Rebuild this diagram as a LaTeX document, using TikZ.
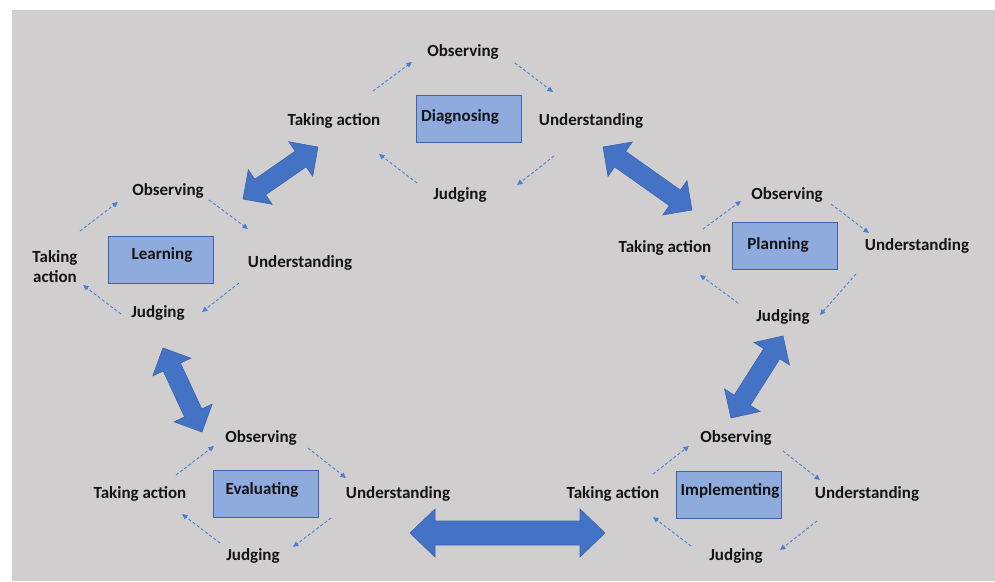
\documentclass[tikz,border=0pt]{standalone}
\usepackage{fontspec}
\setmainfont{Carlito}
\usetikzlibrary{arrows.meta}
\definecolor{bg}{HTML}{D0CECE}
\definecolor{boxfill}{HTML}{8FAADC}
\definecolor{boxedge}{HTML}{3F63A8}
\definecolor{bigblue}{HTML}{4472C4}
\definecolor{bigedge}{HTML}{3A64B0}
\definecolor{dashblue}{HTML}{4A7DD6}
\tikzset{
  lbl/.style={font=\bfseries\fontsize{17}{20}\selectfont, text=black!92, inner sep=0pt, align=center},
  stagebox/.style={draw=boxedge, fill=boxfill, line width=1pt, inner sep=0pt, minimum width=105pt, minimum height=47pt},
  cyc/.style={dashblue, line width=0.9pt, dash pattern=on 3pt off 2.2pt, -{Triangle[length=5.5pt,width=5pt]}},
  bigarrow/.style={fill=bigblue, draw=bigedge, line width=0.6pt, line join=miter}
}
\newcommand\bigdbl[7]{%
  \pgfmathsetmacro\bdx{#3-(#1)}%
  \pgfmathsetmacro\bdy{#4-(#2)}%
  \pgfmathsetmacro\bL{veclen(\bdx,\bdy)}%
  \pgfmathsetmacro\bA{atan2(\bdy,\bdx)}%
  \pgfmathsetmacro\bM{\bL-#7}%
  \begin{scope}[shift={(#1,#2)},rotate=\bA]
    \draw[bigarrow] (0,0) -- (#7,#6) -- (#7,#5) -- (\bM,#5) -- (\bM,#6) -- (\bL,0)
      -- (\bM,-#6) -- (\bM,-#5) -- (#7,-#5) -- (#7,-#6) -- cycle;
  \end{scope}}
\begin{document}
\begin{tikzpicture}[x=1pt,y=1pt]
\useasboundingbox (0,0) rectangle (995,-581);
\fill[white] (0,0) rectangle (995,-581);
\fill[bg] (12,-10) rectangle (995,-581);

% ---------- Diagnosing ----------
\node[stagebox] (dbox) at (469,-118.5) {};
\node[lbl] (dlab) at (460,-117) {Diagnosing};
\node[lbl] (dobs) at (463,-52) {Observing};
\node[lbl] (dta) at (334,-121) {Taking action};
\node[lbl] (dund) at (591,-121) {Understanding};
\node[lbl] (djud) at (460,-195) {Judging};
\coordinate (d1a) at (373,-91);  \coordinate (d1b) at (412,-62);
\coordinate (d2a) at (515,-63);  \coordinate (d2b) at (553,-92);
\coordinate (d3a) at (554,-156); \coordinate (d3b) at (517,-185);
\coordinate (d4a) at (417,-183); \coordinate (d4b) at (379,-154);
\draw[cyc] (d1a) -- (d1b);
\draw[cyc] (d2a) -- (d2b);
\draw[cyc] (d3a) -- (d3b);
\draw[cyc] (d4a) -- (d4b);

% ---------- Learning ----------
\node[stagebox] (lbox) at (160.5,-259.5) {};
\node[lbl] (llab) at (162,-255) {Learning};
\node[lbl] (lobs) at (168,-191) {Observing};
\node[lbl] (lta) at (55,-267) {Taking\\action};
\node[lbl] (lund) at (300,-263) {Understanding};
\node[lbl] (ljud) at (158,-313) {Judging};
\coordinate (l1a) at (80,-231);  \coordinate (l1b) at (118,-202);
\coordinate (l2a) at (209,-200); \coordinate (l2b) at (248,-229);
\coordinate (l3a) at (239,-283); \coordinate (l3b) at (202,-312);
\coordinate (l4a) at (121,-314); \coordinate (l4b) at (83,-285);
\draw[cyc] (l1a) -- (l1b);
\draw[cyc] (l2a) -- (l2b);
\draw[cyc] (l3a) -- (l3b);
\draw[cyc] (l4a) -- (l4b);

% ---------- Planning ----------
\node[stagebox] (pbox) at (785,-246) {};
\node[lbl] (plab) at (778,-245) {Planning};
\node[lbl] (pobs) at (787,-195) {Observing};
\node[lbl] (pta) at (665,-248) {Taking action};
\node[lbl] (pund) at (917,-246) {Understanding};
\node[lbl] (pjud) at (783,-317) {Judging};
\coordinate (p1a) at (703,-229); \coordinate (p1b) at (741,-201);
\coordinate (p2a) at (831,-204); \coordinate (p2b) at (869,-233);
\coordinate (p3a) at (856,-274); \coordinate (p3b) at (820,-315);
\coordinate (p4a) at (738,-303); \coordinate (p4b) at (700,-275);
\draw[cyc] (p1a) -- (p1b);
\draw[cyc] (p2a) -- (p2b);
\draw[cyc] (p3a) -- (p3b);
\draw[cyc] (p4a) -- (p4b);

% ---------- Evaluating ----------
\node[stagebox] (ebox) at (265.5,-494) {};
\node[lbl] (elab) at (262,-490) {Evaluating};
\node[lbl] (eobs) at (261,-438) {Observing};
\node[lbl] (eta) at (140,-494) {Taking action};
\node[lbl] (eund) at (398,-494) {Understanding};
\node[lbl] (ejud) at (253,-556) {Judging};
\coordinate (e1a) at (176,-475); \coordinate (e1b) at (214,-446);
\coordinate (e2a) at (308,-448); \coordinate (e2b) at (346,-478);
\coordinate (e3a) at (331,-518); \coordinate (e3b) at (293,-547);
\coordinate (e4a) at (220,-543); \coordinate (e4b) at (182,-514);
\draw[cyc] (e1a) -- (e1b);
\draw[cyc] (e2a) -- (e2b);
\draw[cyc] (e3a) -- (e3b);
\draw[cyc] (e4a) -- (e4b);

% ---------- Implementing ----------
\node[stagebox] (ibox) at (729,-495) {};
\node[lbl] (ilab) at (730,-491) {Implementing};
\node[lbl] (iobs) at (736,-438) {Observing};
\node[lbl] (ita) at (613,-494) {Taking action};
\node[lbl] (iund) at (867,-494) {Understanding};
\node[lbl] (ijud) at (736,-556) {Judging};
\coordinate (i1a) at (653,-474); \coordinate (i1b) at (689,-446);
\coordinate (i2a) at (783,-451); \coordinate (i2b) at (820,-480);
\coordinate (i3a) at (817,-521); \coordinate (i3b) at (780,-550);
\coordinate (i4a) at (691,-546); \coordinate (i4b) at (653,-517);
\draw[cyc] (i1a) -- (i1b);
\draw[cyc] (i2a) -- (i2b);
\draw[cyc] (i3a) -- (i3b);
\draw[cyc] (i4a) -- (i4b);

% ---------- big double arrows between stages ----------
\bigdbl{243}{-199}{318}{-147}{9.5}{21}{21}
\bigdbl{603}{-147}{692}{-210}{9.5}{21}{21}
\bigdbl{731}{-418}{783}{-336}{9.5}{21}{21}
\bigdbl{163}{-348}{202}{-432}{9.5}{21}{21}
\bigdbl{410}{-533}{605}{-533}{12}{24}{25}
\end{tikzpicture}
\end{document}
